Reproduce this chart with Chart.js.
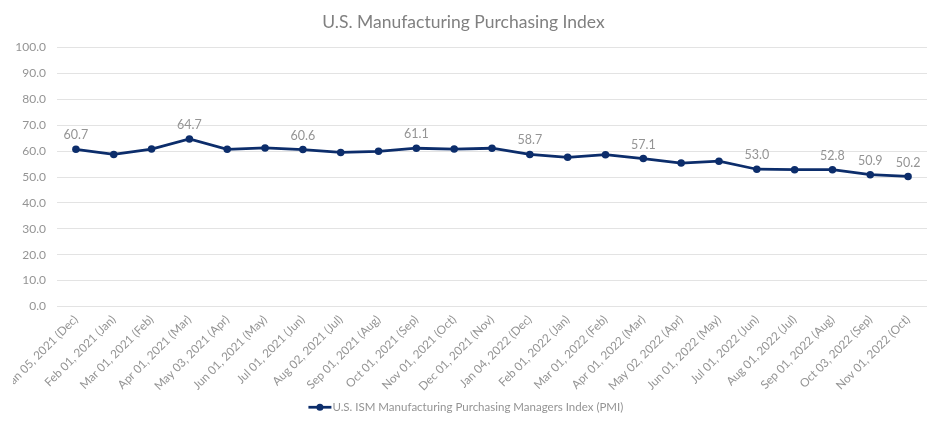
<!DOCTYPE html>
<html>
<head>
<meta charset="utf-8">
<script src="https://cdn.jsdelivr.net/npm/chart.js@4/dist/chart.umd.min.js"></script>
<style>
html,body{margin:0;padding:0;background:#fff;}
#wrap{width:931px;height:423px;}
</style>
</head>
<body>
<div id="wrap"><canvas id="c" width="931" height="423"></canvas></div>
<script>
const chartTitle = "U.S. Manufacturing Purchasing Index";
const seriesName = "U.S. ISM Manufacturing Purchasing Managers Index (PMI)";
const categories = [
  "Jan 05, 2021 (Dec)","Feb 01, 2021 (Jan)","Mar 01, 2021 (Feb)","Apr 01, 2021 (Mar)",
  "May 03, 2021 (Apr)","Jun 01, 2021 (May)","Jul 01, 2021 (Jun)","Aug 02, 2021 (Jul)",
  "Sep 01, 2021 (Aug)","Oct 01, 2021 (Sep)","Nov 01, 2021 (Oct)","Dec 01, 2021 (Nov)",
  "Jan 04, 2022 (Dec)","Feb 01, 2022 (Jan)","Mar 01, 2022 (Feb)","Apr 01, 2022 (Mar)",
  "May 02, 2022 (Apr)","Jun 01, 2022 (May)","Jul 01, 2022 (Jun)","Aug 01, 2022 (Jul)",
  "Sep 01, 2022 (Aug)","Oct 03, 2022 (Sep)","Nov 01, 2022 (Oct)"
];
const pmiValues = [60.7,58.7,60.8,64.7,60.7,61.2,60.6,59.5,59.9,61.1,60.8,61.1,58.7,57.6,58.6,57.1,55.4,56.1,53.0,52.8,52.8,50.9,50.2];
const labeledIndices = [0,3,6,9,12,15,18,20,21,22];
const yMin = 0, yMax = 100, yStep = 10;

const FONT = "Lato, 'Open Sans', sans-serif";
const LINE = "#0c2d6b";
const TXT = "#949494";

const dataLabelPlugin = {
  id: 'dataLabels',
  afterDatasetsDraw(chart) {
    const meta = chart.getDatasetMeta(0);
    const ctx = chart.ctx;
    ctx.save();
    ctx.font = "12.5px " + FONT;
    ctx.fillStyle = TXT;
    ctx.textAlign = 'center';
    ctx.textBaseline = 'middle';
    labeledIndices.forEach(i => {
      const p = meta.data[i];
      ctx.fillText(pmiValues[i].toFixed(1), p.x, p.y - 14);
    });
    ctx.restore();
  }
};

// Clip the lower-left corner like the original (cropped) chart image
const clipPlugin = {
  id: 'cornerClip',
  beforeDraw(chart) {
    const ctx = chart.ctx;
    ctx.save();
    ctx.beginPath();
    ctx.rect(0, 0, chart.width, 312);
    ctx.rect(13, 312, chart.width - 13, chart.height - 312);
    ctx.clip();
  },
  afterDraw(chart) {
    chart.ctx.restore();
    const lg = chart.legend;
    if (!lg || !lg.legendHitBoxes || !lg.legendHitBoxes.length) return;
    const hb = lg.legendHitBoxes[0];
    const ctx = chart.ctx;
    const fs = chart.options.plugins.legend.labels.font.size;
    const bw = chart.options.plugins.legend.labels.boxWidth;
    const xEnd = hb.left + bw + fs / 2 - 1;
    const xStart = xEnd - 23;
    const cy = hb.top + hb.height / 2;
    ctx.save();
    ctx.strokeStyle = LINE;
    ctx.lineWidth = 2.75;
    ctx.beginPath();
    ctx.moveTo(xStart, cy);
    ctx.lineTo(xEnd, cy);
    ctx.stroke();
    ctx.fillStyle = LINE;
    ctx.beginPath();
    ctx.arc((xStart + xEnd) / 2, cy, 3.5, 0, Math.PI * 2);
    ctx.fill();
    ctx.restore();
  }
};

new Chart(document.getElementById('c'), {
  type: 'line',
  data: {
    labels: categories,
    datasets: [{
      label: seriesName,
      data: pmiValues,
      borderColor: LINE,
      backgroundColor: LINE,
      borderWidth: 2.75,
      pointRadius: 3.75,
      pointBackgroundColor: LINE,
      pointBorderWidth: 0,
      tension: 0,
      fill: false
    }]
  },
  options: {
    responsive: false,
    animation: false,
    devicePixelRatio: 1,
    layout: { padding: { left: 0, right: 4, top: 0, bottom: 0 } },
    plugins: {
      title: {
        display: true,
        text: chartTitle,
        color: "#808080",
        font: { family: FONT, size: 17.5, weight: 'normal' },
        padding: { top: 12, bottom: 14.5 }
      },
      legend: {
        display: true,
        position: 'bottom',
        labels: {
          color: TXT,
          font: { family: FONT, size: 11.5 },
          boxWidth: 23,
          boxHeight: 3,
          padding: 10,
          generateLabels(chart) {
            return [{
              text: seriesName,
              fillStyle: 'rgba(0,0,0,0)',
              strokeStyle: 'rgba(0,0,0,0)',
              lineWidth: 0,
              fontColor: TXT,
              datasetIndex: 0,
              hidden: false
            }];
          }
        }
      },
      tooltip: { enabled: false }
    },
    scales: {
      x: {
        offset: true,
        grid: { display: false, drawTicks: false },
        border: { display: false },
        ticks: {
          color: TXT,
          font: { family: FONT, size: 11.75 },
          minRotation: 45,
          maxRotation: 45,
          autoSkip: false,
          padding: 6
        },
        afterFit(scale) {
          scale.height = 85;
          scale.paddingLeft = 0;
          scale.paddingRight = 0;
        }
      },
      y: {
        min: yMin,
        max: yMax,
        grid: { color: "#e3e3e3", lineWidth: 1, drawTicks: false },
        border: { display: false },
        ticks: {
          stepSize: yStep,
          color: TXT,
          font: { family: FONT, size: 12 },
          padding: 11,
          callback: v => Number(v).toFixed(1)
        },
        afterFit(scale) { scale.width = 57; }
      }
    }
  },
  plugins: [dataLabelPlugin, clipPlugin]
});
</script>
</body>
</html>
